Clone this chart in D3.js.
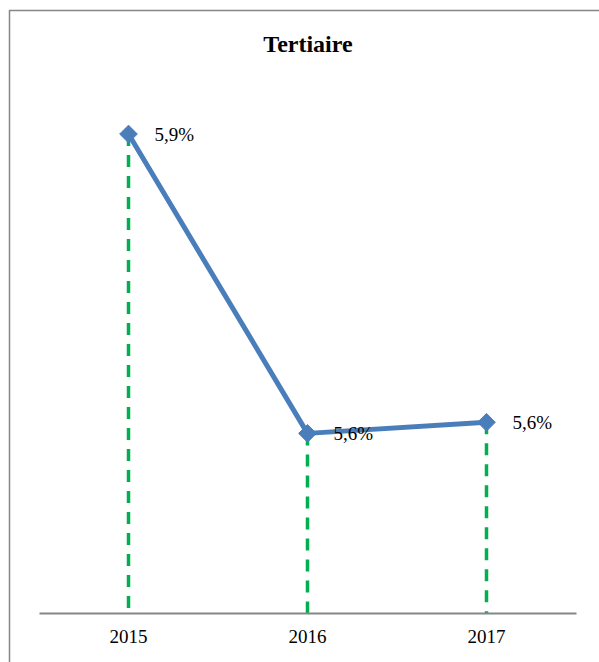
<!DOCTYPE html>
<html><head><meta charset="utf-8">
<script src="https://cdn.jsdelivr.net/npm/d3@7/dist/d3.min.js"></script>
<style>html,body{margin:0;padding:0;background:#fff;}svg{display:block;}</style>
</head><body>
<script>
const years = ["2015", "2016", "2017"];
const values = [5.9, 5.55, 5.563];
const labels = ["5,9%", "5,6%", "5,6%"];
const title = "Tertiaire";

const W = 599, H = 662;
const svg = d3.select("body").append("svg").attr("width", W).attr("height", H);
svg.append("rect").attr("width", W).attr("height", H).attr("fill", "#fff");
// chart border
svg.append("rect").attr("x", 9.5).attr("y", 10.5).attr("width", 620).attr("height", 700)
  .attr("fill", "none").attr("stroke", "#868686").attr("stroke-width", 1.5);

const x = d3.scaleBand().domain(years).range([39, 576]);
const y = d3.scaleLinear().domain([5.34, 5.9]).range([613, 134]);
const cx = d => x(d) + x.bandwidth() / 2;

svg.append("text").attr("x", 308).attr("y", 52).attr("text-anchor", "middle")
  .attr("font-family", "Liberation Serif, serif").attr("font-weight", "bold").attr("font-size", 24)
  .text(title);

// drop lines
svg.selectAll("line.drop").data(years).enter().append("line")
  .attr("x1", d => cx(d)).attr("x2", d => cx(d))
  .attr("y1", (d, i) => y(values[i])).attr("y2", y(5.34))
  .attr("stroke", "#00b050").attr("stroke-width", 3.5).attr("stroke-dasharray", "12,9");

// axis
const axis = svg.append("g").attr("transform", `translate(0,${y(5.34)})`)
  .call(d3.axisBottom(x).tickSize(0).tickPadding(17));
axis.select(".domain").attr("stroke", "#868686").attr("stroke-width", 2);
axis.selectAll("text").attr("font-family", "Liberation Serif, serif").attr("font-size", 19).attr("fill", "#000");

// line
const line = d3.line().x((d, i) => cx(years[i])).y(d => y(d));
svg.append("path").datum(values).attr("d", line).attr("fill", "none")
  .attr("stroke", "#4a7ebb").attr("stroke-width", 5).attr("stroke-linejoin", "round");

// markers
svg.selectAll("path.mk").data(values).enter().append("path")
  .attr("d", d3.symbol().type(d3.symbolDiamond2).size(200))
  .attr("transform", (d, i) => `translate(${cx(years[i])},${y(d)})`)
  .attr("fill", "#4a7ebb").attr("stroke", "#4a7ebb");

// labels
svg.selectAll("text.lbl").data(values).enter().append("text")
  .attr("x", (d, i) => cx(years[i]) + 26).attr("y", d => y(d) + 7)
  .attr("font-family", "Liberation Serif, serif").attr("font-size", 19).attr("fill", "#000")
  .text((d, i) => labels[i]);
</script>
</body></html>
